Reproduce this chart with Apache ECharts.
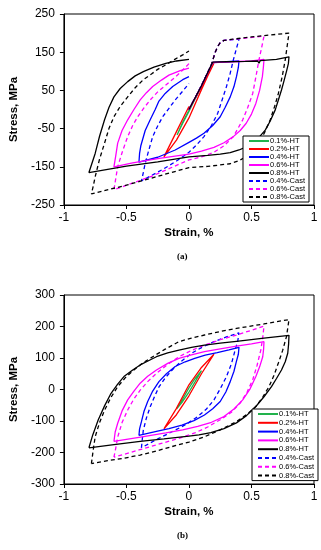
<!DOCTYPE html>
<html>
<head>
<meta charset="utf-8">
<script src="https://cdn.jsdelivr.net/npm/echarts@6/dist/echarts.min.js"></script>
<style>
html,body{margin:0;padding:0;background:#fff;}
#chart{width:321px;height:550px;}
</style>
</head>
<body>
<div id="chart"></div>
<script>
// ---------- Legend / ticks ----------
const names = ['0.1%-HT','0.2%-HT','0.4%-HT','0.6%-HT','0.8%-HT','0.4%-Cast','0.6%-Cast','0.8%-Cast'];
const xTicks = [-1,-0.5,0,0.5,1];
const yTicksA = [-250,-150,-50,50,150,250];
const yTicksB = [-300,-200,-100,0,100,200,300];

// ---------- Data: chart (a)  [strain %, stress MPa] ----------
const a_HT01 = [[0,0],[0.05,30],[0.1,60],[0.05,28],[0,-5],[-0.05,-36],[-0.095,-67],[-0.05,-33],[0,-2]];
const a_HT02 = [[0,0],[0.1,60],[0.2,121],[0.15,88],[0.1,52],[0,-22],[-0.1,-80],[-0.2,-124],[-0.1,-58],[0,8]];
const a_HT04 = [[0,0],[0.1,62],[0.19,123],[0.3,125],[0.4,127],[0.395,110],[0.38,86],[0.36,60],[0.33,33],[0.29,6],[0.25,-19],[0.19,-42],[0.12,-62],[0.06,-75],[0,-86],[-0.11,-106],[-0.25,-125],[-0.4,-138],[-0.395,-115],[-0.385,-95],[-0.35,-55],[-0.31,-27],[-0.27,0],[-0.24,22],[-0.19,42],[-0.13,60],[-0.05,78],[0,86]];
const a_HT06 = [[0,0],[0.1,62],[0.19,123],[0.35,125],[0.5,127],[0.6,131],[0.595,110],[0.587,86],[0.565,50],[0.535,16],[0.5,-12],[0.458,-36],[0.41,-55],[0.355,-71],[0.28,-87],[0.2,-99],[0.1,-109],[0,-117],[-0.237,-128],[-0.45,-140],[-0.6,-150],[-0.585,-120],[-0.57,-88],[-0.535,-55],[-0.49,-27],[-0.44,0],[-0.39,25],[-0.34,44],[-0.29,60],[-0.22,77],[-0.16,90],[-0.07,102],[0,108]];
const a_HT08 = [[0,0],[0.1,62],[0.19,124],[0.3,125],[0.45,126],[0.55,127],[0.56,121],[0.57,128],[0.7,131],[0.8,138],[0.795,120],[0.78,100],[0.76,75],[0.74,51],[0.715,25],[0.69,-1],[0.65,-30],[0.61,-54],[0.56,-73],[0.51,-88],[0.45,-99],[0.4,-106],[0.33,-113],[0.25,-117],[0.15,-120],[0,-124],[-0.25,-137],[-0.5,-148],[-0.8,-165],[-0.775,-140],[-0.75,-115],[-0.715,-70],[-0.675,-27],[-0.64,5],[-0.6,33],[-0.55,55],[-0.49,73],[-0.43,88],[-0.365,99],[-0.28,111],[-0.185,121],[-0.1,127],[0,131]];
const a_C04 = [[0,0],[0.1,62],[0.18,118],[0.21,150],[0.23,165],[0.25,175],[0.28,181],[0.4,184],[0.38,160],[0.355,130],[0.33,95],[0.3,60],[0.265,25],[0.23,-10],[0.18,-42],[0.12,-71],[0.06,-93],[0,-112],[-0.1,-135],[-0.2,-155],[-0.38,-187],[-0.365,-165],[-0.35,-141],[-0.32,-105],[-0.29,-71],[-0.25,-43],[-0.21,-19],[-0.16,3],[-0.11,25],[-0.05,48],[0,68]];
const a_C06 = [[0,0],[0.1,62],[0.18,118],[0.21,150],[0.23,165],[0.25,175],[0.28,181],[0.4,185],[0.6,192],[0.58,160],[0.56,130],[0.535,85],[0.51,42],[0.47,5],[0.43,-27],[0.355,-71],[0.28,-95],[0.2,-112],[0.1,-124],[0,-132],[-0.3,-175],[-0.6,-210],[-0.585,-180],[-0.57,-150],[-0.53,-108],[-0.49,-71],[-0.45,-42],[-0.41,-19],[-0.36,4],[-0.31,25],[-0.25,46],[-0.185,64],[-0.12,82],[-0.06,100],[0,120]];
const a_C08 = [[0,0],[0.1,62],[0.18,118],[0.21,150],[0.23,165],[0.25,175],[0.28,181],[0.35,184],[0.5,190],[0.65,195],[0.8,200],[0.785,165],[0.77,130],[0.745,85],[0.715,42],[0.685,8],[0.65,-27],[0.605,-60],[0.56,-88],[0.51,-108],[0.46,-123],[0.4,-134],[0.33,-142],[0.15,-149],[0,-152],[-0.25,-175],[-0.5,-198],[-0.78,-221],[-0.765,-200],[-0.75,-176],[-0.715,-130],[-0.675,-88],[-0.64,-50],[-0.6,-19],[-0.55,8],[-0.49,33],[-0.43,57],[-0.365,78],[-0.3,93],[-0.25,105],[-0.18,118],[-0.11,132],[-0.05,143],[0,153]];

// ---------- Data: chart (b) ----------
const b_HT01 = [[-0.1,-62],[-0.05,-30],[0,5],[0.05,35],[0.1,60],[0.05,25],[0,-8],[-0.05,-38],[-0.1,-62]];
const b_HT02 = [[-0.2,-125],[-0.1,-60],[0,15],[0.1,70],[0.2,112],[0.1,50],[0,-20],[-0.1,-80],[-0.2,-125]];
const b_HT04 = [[-0.4,-146],[-0.395,-125],[-0.38,-102],[-0.36,-70],[-0.33,-38],[-0.29,-5],[-0.24,25],[-0.18,50],[-0.11,73],[-0.03,88],[0.046,99],[0.13,109],[0.226,117],[0.32,126],[0.4,134],[0.395,112],[0.38,90],[0.36,58],[0.33,25],[0.295,-8],[0.25,-38],[0.19,-61],[0.124,-81],[0.04,-99],[-0.056,-113],[-0.16,-124],[-0.26,-133],[-0.4,-146]];
const b_HT06 = [[-0.6,-165],[-0.59,-135],[-0.57,-107],[-0.535,-68],[-0.49,-33],[-0.44,-5],[-0.39,20],[-0.33,42],[-0.26,62],[-0.17,83],[-0.08,99],[0.02,110],[0.124,120],[0.25,129],[0.38,138],[0.5,145],[0.6,152],[0.597,128],[0.59,104],[0.565,72],[0.535,41],[0.49,3],[0.43,-33],[0.36,-62],[0.28,-86],[0.18,-104],[0.07,-117],[-0.05,-128],[-0.185,-138],[-0.4,-152],[-0.6,-165]];
const b_HT08 = [[-0.8,-185],[-0.77,-145],[-0.726,-97],[-0.675,-52],[-0.623,-12],[-0.57,17],[-0.52,41],[-0.45,62],[-0.39,78],[-0.32,92],[-0.26,104],[-0.17,116],[-0.08,125],[0.02,134],[0.124,141],[0.25,147],[0.38,153],[0.6,163],[0.8,172],[0.797,145],[0.79,115],[0.77,88],[0.74,62],[0.7,35],[0.66,9],[0.6,-23],[0.535,-54],[0.46,-83],[0.38,-106],[0.28,-124],[0.175,-137],[0.08,-144],[0,-148],[-0.2,-157],[-0.39,-165],[-0.6,-175],[-0.8,-185]];
const b_C04 = [[-0.38,-185],[-0.373,-157],[-0.365,-129],[-0.34,-90],[-0.31,-55],[-0.275,-22],[-0.24,8],[-0.19,37],[-0.134,62],[-0.06,90],[0.02,115],[0.11,135],[0.2,152],[0.3,167],[0.4,180],[0.39,153],[0.37,126],[0.34,82],[0.3,41],[0.25,2],[0.2,-33],[0.14,-62],[0.07,-86],[-0.02,-110],[-0.11,-129],[-0.25,-157],[-0.38,-185]];
const b_C06 = [[-0.6,-215],[-0.585,-185],[-0.57,-151],[-0.535,-105],[-0.49,-65],[-0.44,-30],[-0.39,-2],[-0.33,25],[-0.26,51],[-0.17,80],[-0.08,104],[0.02,124],[0.124,141],[0.25,158],[0.38,173],[0.5,188],[0.6,201],[0.59,165],[0.575,126],[0.545,77],[0.51,31],[0.465,-8],[0.41,-43],[0.34,-72],[0.25,-96],[0.15,-119],[0.046,-138],[-0.08,-155],[-0.21,-170],[-0.4,-192],[-0.6,-215]];
const b_C08 = [[-0.78,-235],[-0.765,-190],[-0.75,-150],[-0.715,-105],[-0.674,-65],[-0.625,-26],[-0.57,9],[-0.51,37],[-0.44,62],[-0.37,84],[-0.29,104],[-0.19,128],[-0.08,152],[0.02,163],[0.124,173],[0.25,184],[0.38,194],[0.6,208],[0.8,222],[0.79,195],[0.78,168],[0.75,125],[0.715,84],[0.68,45],[0.64,9],[0.59,-24],[0.535,-54],[0.46,-80],[0.38,-102],[0.25,-128],[0.124,-150],[0,-167],[-0.134,-181],[-0.26,-195],[-0.39,-208],[-0.52,-218],[-0.65,-226],[-0.78,-235]];

const dataA = [a_HT01,a_HT02,a_HT04,a_HT06,a_HT08,a_C04,a_C06,a_C08];
const dataB = [b_HT01,b_HT02,b_HT04,b_HT06,b_HT08,b_C04,b_C06,b_C08];
const colors = ['#22b24c','#ff0000','#0000ff','#ff00ff','#000000','#0000ff','#ff00ff','#000000'];
const dashed = [false,false,false,false,false,true,true,true];

const FONT = 'Liberation Sans, Arial, sans-serif';

function xAxisCfg(gi){
  return {
    gridIndex: gi, type:'value', min:-1, max:1, interval:0.5,
    name:'Strain, %', nameLocation:'middle', nameGap: 22,
    nameTextStyle:{fontFamily:FONT, fontSize:11.5, fontWeight:'bold', color:'#000'},
    axisLine:{onZero:false, lineStyle:{color:'#000', width:1}},
    axisTick:{show:true, inside:false, length:4, lineStyle:{color:'#000'}},
    axisLabel:{fontFamily:FONT, fontSize:12, color:'#000', margin:7,
      formatter: v => String(v)},
    splitLine:{show:false}
  };
}
function yAxisCfg(gi, mn, mx){
  return {
    gridIndex: gi, type:'value', min:mn, max:mx, interval:100,
    name:'Stress, MPa', nameLocation:'middle', nameGap: 38,
    nameTextStyle:{fontFamily:FONT, fontSize:11.5, fontWeight:'bold', color:'#000'},
    axisLine:{onZero:false, lineStyle:{color:'#000', width:1}},
    axisTick:{show:true, inside:false, length:4, lineStyle:{color:'#000'}},
    axisLabel:{fontFamily:FONT, fontSize:12, color:'#000', margin:9},
    splitLine:{show:false}
  };
}

const series = [];
[dataA, dataB].forEach((set, gi) => {
  set.forEach((d, i) => {
    series.push({
      name: names[i], type:'line', xAxisIndex: gi, yAxisIndex: gi,
      data: d, symbol:'none', smooth: false, animation:false,
      lineStyle:{color: colors[i], width:1.3, type: dashed[i] ? [4,3] : 'solid'},
      itemStyle:{color: colors[i]}, z: dashed[i] ? 2 : 3
    });
  });
});

function legendCfg(left, top, gap){
  return {
    data: names, orient:'vertical', left:left, top:top,
    itemWidth:20, itemHeight:8, itemGap:gap,
    padding:[1,4,1,5],
    backgroundColor:'#fff', borderColor:'#000', borderWidth:1,
    itemStyle:{color:'rgba(0,0,0,0)', borderColor:'rgba(0,0,0,0)', borderWidth:0, opacity:0},
    textStyle:{fontFamily:FONT, fontSize:7.5, color:'#000', lineHeight:8, padding:[0,0,0,-4]},
    selectedMode:false
  };
}

const chart = echarts.init(document.getElementById('chart'), null, {renderer:'canvas'});
chart.setOption({
  animation:false,
  backgroundColor:'#fff',
  grid:[
    {left:55, top:14, width:259, height:191, show:true, borderColor:'#000', borderWidth:1, backgroundColor:'transparent'},
    {left:55, top:295, width:259, height:189, show:true, borderColor:'#000', borderWidth:1, backgroundColor:'transparent'}
  ],
  xAxis:[xAxisCfg(0), xAxisCfg(1)],
  yAxis:[yAxisCfg(0,-250,250), yAxisCfg(1,-300,300)],
  legend:[legendCfg(243,136,0), legendCfg(252,409,0.8)],
  series: series,
  graphic:[
    {type:'text', left:177, top:252, style:{text:'(a)', font:'bold 9px Liberation Serif, serif', fill:'#000'}},
    {type:'text', left:177, top:531, style:{text:'(b)', font:'bold 9px Liberation Serif, serif', fill:'#000'}}
  ]
});
</script>
</body>
</html>
